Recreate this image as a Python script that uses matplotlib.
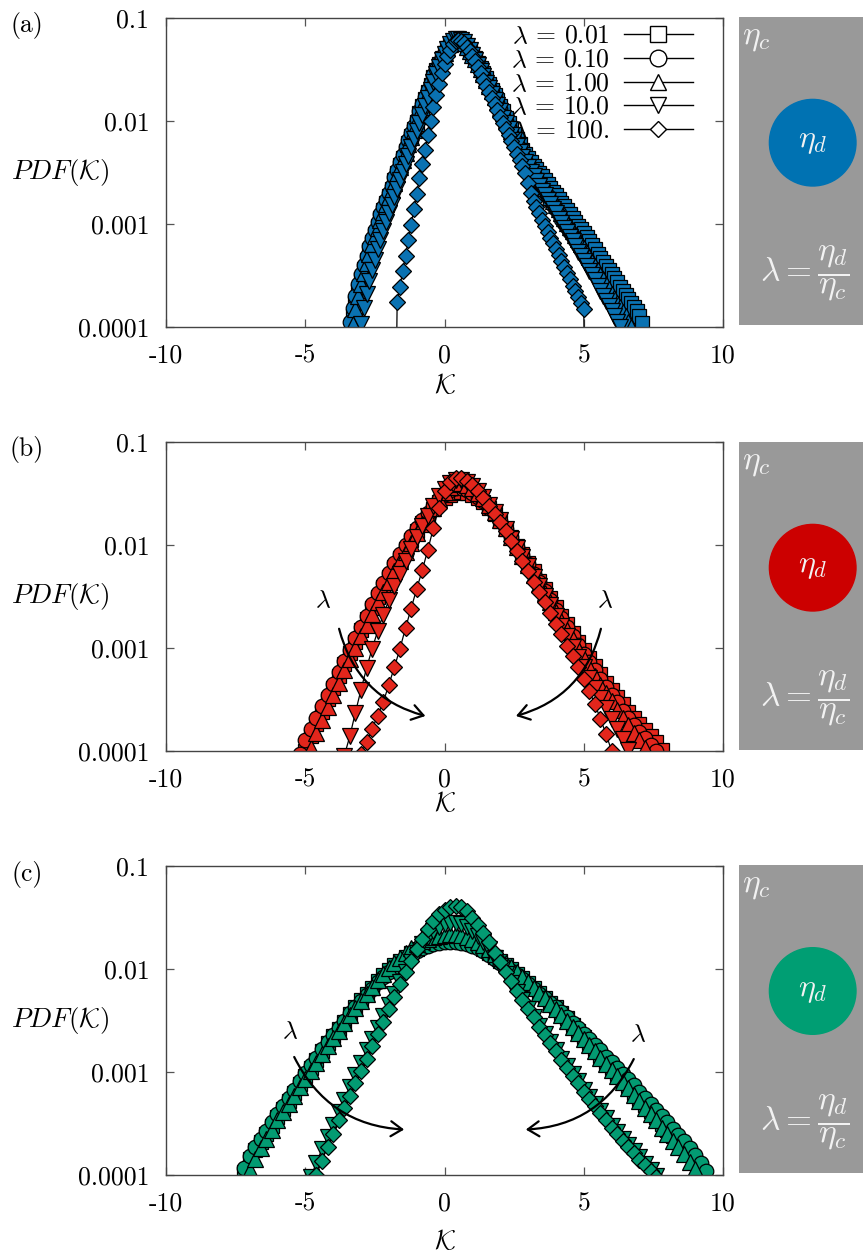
import numpy as np
import matplotlib
matplotlib.use("Agg")
import matplotlib.pyplot as plt
from matplotlib.lines import Line2D
from matplotlib.patches import Circle, FancyArrowPatch, Rectangle
from matplotlib.ticker import NullLocator

plt.rcParams["font.family"] = "cmr10"
plt.rcParams["mathtext.fontset"] = "cm"
plt.rcParams["axes.unicode_minus"] = False

# viscosity ratios, one series each
lambdas = ["0.01", "0.10", "1.00", "10.0", "100."]
markers = ["s", "o", "^", "v", "D"]
msizes = [9.5, 10.5, 11, 11, 7.8]
leg_sizes = [12, 12, 12, 12, 8.5]

# ---- panel (a): log10 PDF, bin width 0.1, first bin centre in a_start ----
a_step = 0.1
a_start = [-3.3, -3.4, -3.3, -3.0, -1.8]
a_sq = [-3.90, -3.77, -3.65, -3.54, -3.44, -3.35, -3.26, -3.18, -3.10, -3.02,
        -2.94, -2.87, -2.80, -2.73, -2.66, -2.58, -2.51, -2.43, -2.36, -2.29,
        -2.22, -2.15, -2.08, -2.01, -1.93, -1.86, -1.79, -1.72, -1.65, -1.58,
        -1.51, -1.45, -1.39, -1.34, -1.29, -1.26, -1.24, -1.22, -1.22, -1.23,
        -1.25, -1.28, -1.31, -1.35, -1.39, -1.44, -1.49, -1.54, -1.59, -1.64,
        -1.70, -1.75, -1.80, -1.86, -1.91, -1.97, -2.02, -2.08, -2.13, -2.18,
        -2.23, -2.28, -2.32, -2.36, -2.40, -2.44, -2.47, -2.51, -2.54, -2.58,
        -2.61, -2.65, -2.69, -2.72, -2.76, -2.80, -2.83, -2.87, -2.91, -2.94,
        -2.98, -3.02, -3.05, -3.09, -3.13, -3.17, -3.21, -3.25, -3.29, -3.33,
        -3.37, -3.41, -3.45, -3.49, -3.53, -3.57, -3.61, -3.65, -3.69, -3.73,
        -3.77, -3.81, -3.85, -3.90, -3.96]
a_ci = [-3.95, -3.82, -3.70, -3.59, -3.49, -3.40, -3.31, -3.22, -3.14, -3.06,
        -2.98, -2.91, -2.84, -2.77, -2.70, -2.63, -2.55, -2.48, -2.40, -2.33,
        -2.26, -2.19, -2.12, -2.05, -1.98, -1.91, -1.84, -1.77, -1.70, -1.63,
        -1.56, -1.50, -1.44, -1.38, -1.33, -1.29, -1.26, -1.24, -1.23, -1.23,
        -1.24, -1.26, -1.29, -1.32, -1.36, -1.41, -1.46, -1.51, -1.56, -1.61,
        -1.67, -1.72, -1.78, -1.83, -1.89, -1.95, -2.00, -2.06, -2.12, -2.18,
        -2.23, -2.29, -2.34, -2.38, -2.43, -2.47, -2.52, -2.56, -2.60, -2.65,
        -2.69, -2.73, -2.78, -2.82, -2.86, -2.90, -2.95, -2.99, -3.03, -3.08,
        -3.12, -3.16, -3.21, -3.25, -3.29, -3.34, -3.38, -3.43, -3.47, -3.52,
        -3.56, -3.61, -3.66, -3.71, -3.75, -3.80, -3.85, -3.90, -3.95, -4.00]
a_tu = [-3.97, -3.83, -3.70, -3.59, -3.48, -3.38, -3.29, -3.20, -3.12, -3.04,
        -2.96, -2.89, -2.81, -2.74, -2.67, -2.60, -2.52, -2.45, -2.38, -2.31,
        -2.23, -2.16, -2.09, -2.02, -1.95, -1.87, -1.80, -1.73, -1.66, -1.59,
        -1.52, -1.46, -1.40, -1.34, -1.29, -1.26, -1.23, -1.22, -1.22, -1.23,
        -1.25, -1.28, -1.32, -1.36, -1.40, -1.45, -1.50, -1.55, -1.60, -1.66,
        -1.71, -1.77, -1.82, -1.88, -1.93, -1.99, -2.04, -2.10, -2.15, -2.21,
        -2.26, -2.31, -2.35, -2.40, -2.44, -2.48, -2.53, -2.57, -2.61, -2.65,
        -2.69, -2.74, -2.78, -2.82, -2.86, -2.90, -2.94, -2.99, -3.03, -3.07,
        -3.11, -3.15, -3.20, -3.24, -3.28, -3.32, -3.37, -3.41, -3.45, -3.50,
        -3.54, -3.59, -3.63, -3.68, -3.72, -3.77, -3.81, -3.86, -3.90, -3.95,
        -4.00]
a_td = [-3.97, -3.82, -3.68, -3.56, -3.45, -3.35, -3.25, -3.16, -3.07, -2.98,
        -2.90, -2.82, -2.74, -2.66, -2.58, -2.50, -2.42, -2.34, -2.26, -2.18,
        -2.10, -2.02, -1.94, -1.86, -1.78, -1.70, -1.62, -1.55, -1.48, -1.41,
        -1.35, -1.30, -1.26, -1.23, -1.21, -1.21, -1.22, -1.24, -1.27, -1.31,
        -1.36, -1.41, -1.46, -1.52, -1.57, -1.63, -1.68, -1.74, -1.80, -1.85,
        -1.91, -1.97, -2.02, -2.08, -2.14, -2.19, -2.25, -2.30, -2.35, -2.40,
        -2.45, -2.50, -2.54, -2.59, -2.63, -2.68, -2.72, -2.77, -2.81, -2.86,
        -2.90, -2.95, -2.99, -3.04, -3.08, -3.13, -3.17, -3.22, -3.27, -3.31,
        -3.36, -3.41, -3.46, -3.50, -3.55, -3.60, -3.65, -3.70, -3.75, -3.80,
        -3.85, -3.90, -3.95, -4.00]
a_di = [-6.00, -3.76, -3.61, -3.46, -3.31, -3.16, -3.01, -2.86, -2.71, -2.56,
        -2.42, -2.28, -2.14, -2.00, -1.87, -1.75, -1.64, -1.54, -1.45, -1.37,
        -1.31, -1.26, -1.23, -1.22, -1.23, -1.25, -1.28, -1.32, -1.37, -1.42,
        -1.48, -1.54, -1.60, -1.66, -1.72, -1.78, -1.84, -1.90, -1.96, -2.02,
        -2.08, -2.14, -2.20, -2.26, -2.32, -2.38, -2.44, -2.51, -2.60, -2.70,
        -2.78, -2.84, -2.90, -2.96, -3.02, -3.08, -3.14, -3.19, -3.25, -3.30,
        -3.36, -3.42, -3.48, -3.54, -3.60, -3.65, -3.71, -3.77, -3.83, -6.00]

# ---- panel (b): bin width 0.2 ----
b_step = 0.2
b_start = [-5.0, -5.2, -4.8, -3.6, -3.0]
b_sq = [-4.00, -3.86, -3.74, -3.62, -3.50, -3.39, -3.27, -3.16, -3.05, -2.94,
        -2.83, -2.72, -2.61, -2.51, -2.41, -2.31, -2.22, -2.13, -2.04, -1.95,
        -1.87, -1.79, -1.72, -1.65, -1.59, -1.55, -1.52, -1.50, -1.49, -1.50,
        -1.52, -1.55, -1.59, -1.64, -1.70, -1.77, -1.85, -1.93, -2.01, -2.09,
        -2.18, -2.26, -2.35, -2.43, -2.52, -2.60, -2.69, -2.77, -2.86, -2.94,
        -3.02, -3.10, -3.18, -3.26, -3.34, -3.41, -3.48, -3.55, -3.62, -3.68,
        -3.74, -3.80, -3.86, -3.92, -3.99]
b_ci = [-4.03, -3.90, -3.79, -3.68, -3.57, -3.46, -3.35, -3.24, -3.13, -3.02,
        -2.91, -2.80, -2.69, -2.58, -2.47, -2.37, -2.27, -2.18, -2.09, -2.00,
        -1.92, -1.84, -1.76, -1.69, -1.62, -1.56, -1.51, -1.47, -1.45, -1.45,
        -1.47, -1.50, -1.54, -1.58, -1.64, -1.70, -1.77, -1.85, -1.93, -2.02,
        -2.10, -2.19, -2.28, -2.36, -2.45, -2.54, -2.63, -2.71, -2.80, -2.89,
        -2.97, -3.06, -3.14, -3.22, -3.30, -3.38, -3.46, -3.53, -3.61, -3.68,
        -3.75, -3.82, -3.88, -3.94, -4.00]
b_tu = [-3.97, -3.83, -3.70, -3.58, -3.46, -3.34, -3.22, -3.11, -3.00, -2.89,
        -2.78, -2.67, -2.56, -2.46, -2.36, -2.26, -2.16, -2.07, -1.98, -1.89,
        -1.80, -1.72, -1.64, -1.56, -1.49, -1.44, -1.41, -1.40, -1.42, -1.45,
        -1.50, -1.55, -1.61, -1.68, -1.76, -1.84, -1.93, -2.02, -2.11, -2.20,
        -2.29, -2.38, -2.47, -2.56, -2.65, -2.74, -2.83, -2.92, -3.01, -3.10,
        -3.19, -3.27, -3.36, -3.44, -3.52, -3.60, -3.68, -3.75, -3.83, -3.90,
        -3.97]
b_td = [-4.05, -3.86, -3.63, -3.41, -3.20, -3.01, -2.84, -2.68, -2.54, -2.40,
        -2.28, -2.16, -2.04, -1.93, -1.82, -1.72, -1.62, -1.53, -1.46, -1.40,
        -1.37, -1.37, -1.39, -1.43, -1.48, -1.54, -1.61, -1.68, -1.76, -1.85,
        -1.94, -2.03, -2.12, -2.21, -2.31, -2.40, -2.50, -2.59, -2.69, -2.79,
        -2.89, -2.99, -3.09, -3.19, -3.29, -3.39, -3.49, -3.59, -3.69, -3.79,
        -3.89, -3.99]
b_di = [-4.03, -3.92, -3.79, -3.66, -3.53, -3.36, -3.19, -3.01, -2.81, -2.62,
        -2.43, -2.25, -2.05, -1.84, -1.64, -1.48, -1.39, -1.35, -1.35, -1.38,
        -1.42, -1.48, -1.55, -1.62, -1.70, -1.78, -1.87, -1.96, -2.06, -2.16,
        -2.26, -2.36, -2.46, -2.56, -2.66, -2.77, -2.87, -2.98, -3.08, -3.19,
        -3.30, -3.42, -3.55, -3.69, -3.84, -4.00]

# ---- panel (c): bin width 0.2 ----
c_step = 0.2
c_start = [-7.2, -7.2, -7.0, -4.8, -4.6]
c_sq = [-3.97, -3.84, -3.76, -3.68, -3.60, -3.52, -3.44, -3.36, -3.28, -3.20,
        -3.12, -3.04, -2.96, -2.88, -2.80, -2.72, -2.65, -2.58, -2.51, -2.44,
        -2.37, -2.30, -2.24, -2.18, -2.12, -2.06, -2.01, -1.96, -1.92, -1.88,
        -1.84, -1.81, -1.78, -1.76, -1.74, -1.73, -1.72, -1.71, -1.71, -1.72,
        -1.73, -1.75, -1.78, -1.81, -1.84, -1.88, -1.92, -1.96, -2.00, -2.05,
        -2.09, -2.14, -2.18, -2.23, -2.28, -2.33, -2.37, -2.43, -2.48, -2.54,
        -2.60, -2.66, -2.72, -2.78, -2.84, -2.90, -2.96, -3.02, -3.08, -3.14,
        -3.20, -3.26, -3.32, -3.38, -3.44, -3.50, -3.56, -3.62, -3.68, -3.74,
        -3.80, -3.87, -3.95]
c_ci = [-3.93, -3.82, -3.73, -3.65, -3.57, -3.49, -3.41, -3.33, -3.25, -3.17,
        -3.09, -3.01, -2.93, -2.86, -2.78, -2.71, -2.64, -2.57, -2.50, -2.43,
        -2.37, -2.31, -2.25, -2.19, -2.13, -2.08, -2.03, -1.98, -1.94, -1.90,
        -1.86, -1.83, -1.80, -1.78, -1.76, -1.75, -1.74, -1.74, -1.74, -1.75,
        -1.76, -1.78, -1.80, -1.83, -1.86, -1.90, -1.94, -1.98, -2.02, -2.06,
        -2.10, -2.15, -2.19, -2.24, -2.28, -2.33, -2.37, -2.42, -2.47, -2.52,
        -2.57, -2.63, -2.68, -2.74, -2.79, -2.85, -2.90, -2.96, -3.02, -3.07,
        -3.13, -3.19, -3.25, -3.31, -3.37, -3.43, -3.49, -3.55, -3.61, -3.67,
        -3.74, -3.81, -3.88, -3.96]
c_tu = [-3.95, -3.84, -3.74, -3.65, -3.56, -3.47, -3.39, -3.31, -3.23, -3.15,
        -3.07, -2.99, -2.91, -2.83, -2.75, -2.67, -2.60, -2.52, -2.45, -2.38,
        -2.31, -2.24, -2.17, -2.11, -2.05, -1.99, -1.94, -1.89, -1.84, -1.80,
        -1.76, -1.73, -1.71, -1.69, -1.68, -1.67, -1.66, -1.66, -1.67, -1.69,
        -1.71, -1.74, -1.77, -1.81, -1.85, -1.89, -1.94, -1.98, -2.03, -2.08,
        -2.13, -2.18, -2.23, -2.28, -2.34, -2.39, -2.45, -2.50, -2.56, -2.62,
        -2.68, -2.74, -2.80, -2.86, -2.92, -2.98, -3.04, -3.10, -3.16, -3.22,
        -3.28, -3.35, -3.41, -3.47, -3.54, -3.60, -3.67, -3.73, -3.80, -3.87,
        -3.94]
c_td = [-4.02, -3.88, -3.75, -3.63, -3.51, -3.39, -3.27, -3.15, -3.03, -2.91,
        -2.79, -2.68, -2.57, -2.46, -2.35, -2.24, -2.13, -2.03, -1.93, -1.84,
        -1.76, -1.69, -1.63, -1.59, -1.56, -1.55, -1.55, -1.56, -1.59, -1.63,
        -1.68, -1.74, -1.81, -1.89, -1.97, -2.05, -2.14, -2.22, -2.30, -2.39,
        -2.47, -2.55, -2.63, -2.71, -2.79, -2.87, -2.94, -3.02, -3.09, -3.17,
        -3.24, -3.31, -3.38, -3.45, -3.52, -3.58, -3.65, -3.71, -3.77, -3.83,
        -3.89, -3.95, -4.01]
c_di = [-4.00, -3.86, -3.73, -3.60, -3.47, -3.35, -3.23, -3.11, -2.99, -2.87,
        -2.75, -2.63, -2.51, -2.39, -2.27, -2.15, -2.03, -1.92, -1.81, -1.71,
        -1.61, -1.53, -1.47, -1.43, -1.40, -1.39, -1.40, -1.44, -1.50, -1.57,
        -1.65, -1.74, -1.84, -1.93, -2.03, -2.12, -2.21, -2.30, -2.39, -2.47,
        -2.56, -2.64, -2.72, -2.80, -2.88, -2.96, -3.04, -3.11, -3.19, -3.26,
        -3.33, -3.40, -3.47, -3.54, -3.60, -3.67, -3.73, -3.79, -3.85, -3.90,
        -3.96, -4.02]

panels = [
    ("(a)", a_step, a_start, [a_sq, a_ci, a_tu, a_td, a_di], "#0a72b2", "#0072b2"),
    ("(b)", b_step, b_start, [b_sq, b_ci, b_tu, b_td, b_di], "#e3261c", "#cc0000"),
    ("(c)", c_step, c_start, [c_sq, c_ci, c_tu, c_td, c_di], "#039b72", "#009e73"),
]

# figure layout in pixels (863 x 1259)
W, H = 863.0, 1259.0
ax_left, ax_right = 166.0, 723.0
ax_tops = [17.7, 441.7, 866.0]
ax_h = 309.0
xlabel_y = [386.0, 804.0, 1241.0]
box_left = 739.3
box_tops = [16.7, 441.7, 865.0]
box_h = 308.3
fs = 18.5

# curved arrows showing growing lambda: (text pos, arrow start, arrow end, rad)
arrows = {
    1: [((-4.37, -2.54), (-3.81, -2.79), (-0.59, -3.67), 0.3),
        ((5.76, -2.54), (5.64, -2.79), (2.47, -3.67), -0.3)],
    2: [((-5.55, -2.60), (-5.44, -2.83), (-1.35, -3.56), 0.3),
        ((6.95, -2.63), (6.84, -2.85), (2.82, -3.56), -0.3)],
}

fig = plt.figure(figsize=(W / 100, H / 100), dpi=100)

for i, (tag, step, starts, series, mcol, dcol) in enumerate(panels):
    ax = fig.add_axes([ax_left / W, 1 - (ax_tops[i] + ax_h) / H,
                       (ax_right - ax_left) / W, ax_h / H])
    for k0, logp, m, ms in zip(starts, series, markers, msizes):
        k = k0 + step * np.arange(len(logp))
        ax.plot(k, 10.0 ** np.array(logp), color="black", lw=0.9,
                marker=m, ms=ms, mfc=mcol, mec="black", mew=0.9)

    ax.set_yscale("log")
    ax.set_xlim(-10, 10)
    ax.set_ylim(1e-4, 0.1)
    ax.set_xticks([-10, -5, 0, 5, 10])
    ax.set_xticklabels(["-10", "-5", "0", "5", "10"])
    ax.set_yticks([1e-4, 1e-3, 1e-2, 1e-1])
    ax.set_yticklabels(["0.0001", "0.001", "0.01", "0.1"])
    ax.yaxis.set_minor_locator(NullLocator())
    ax.tick_params(direction="in", top=True, right=True, length=6,
                   width=0.9, color="#555555", labelsize=fs, pad=12)
    for sp in ax.spines.values():
        sp.set_color("#444444")
        sp.set_linewidth(1.0)

    ax.set_ylabel(r"$PDF(\mathcal{K})$", rotation=0, fontsize=19.5,
                  ha="center", va="center")
    ax.yaxis.set_label_coords(-0.19, 0.5)
    ax.set_xlabel(r"$\mathcal{K}$", fontsize=19.5, va="center")
    ax.xaxis.set_label_coords(0.5, -(xlabel_y[i] - ax_tops[i] - ax_h) / ax_h)

    fig.text(27 / W, 1 - (ax_tops[i] + 8) / H, tag, fontsize=fs,
             ha="center", va="center")

    if i == 0:
        handles = [Line2D([], [], color="black", lw=1.0, marker=m, ms=s,
                          mfc="white", mec="black", mew=1.0)
                   for m, s in zip(markers, leg_sizes)]
        labels = [r"$\lambda$ = %s" % l for l in lambdas]
        leg = ax.legend(handles, labels, loc="upper right",
                        bbox_to_anchor=(0.946, 0.978), frameon=False,
                        markerfirst=False, handlelength=2.7,
                        handletextpad=0.55, labelspacing=0.0, borderpad=0,
                        borderaxespad=0, fontsize=fs)
        leg.set_zorder(10)
    else:
        for (tx, ty), (x1, y1), (x2, y2), rad in arrows[i]:
            ax.text(tx, 10 ** ty, r"$\lambda$", fontsize=fs,
                    ha="center", va="center", zorder=6)
            ax.add_patch(FancyArrowPatch(
                (x1, 10 ** y1), (x2, 10 ** y2),
                arrowstyle="->,head_length=0.45,head_width=0.3",
                connectionstyle="arc3,rad=%g" % rad,
                mutation_scale=18, lw=1.6, color="black", zorder=6))

    # sketch of the drop: matrix viscosity eta_c, drop viscosity eta_d
    bw = W - box_left
    bx = fig.add_axes([box_left / W, 1 - (box_tops[i] + box_h) / H,
                       bw / W, box_h / H])
    bx.set_xlim(0, bw)
    bx.set_ylim(box_h, 0)
    bx.set_axis_off()
    bx.add_patch(Rectangle((0, 0), bw, box_h, color="#999999"))
    bx.add_patch(Circle((73.4, 126.0), 43.3, color=dcol))
    tc = "#f2f2f2"
    bx.text(3, 7, r"$\eta_c$", fontsize=24, color=tc, ha="left", va="top")
    bx.text(73.4, 126.0, r"$\eta_d$", fontsize=23, color=tc,
            ha="center", va="center")
    bx.text(66, 257, r"$\lambda = \dfrac{\eta_d}{\eta_c}$", fontsize=24,
            color=tc, ha="center", va="center")

fig.savefig("out.png", dpi=100)
